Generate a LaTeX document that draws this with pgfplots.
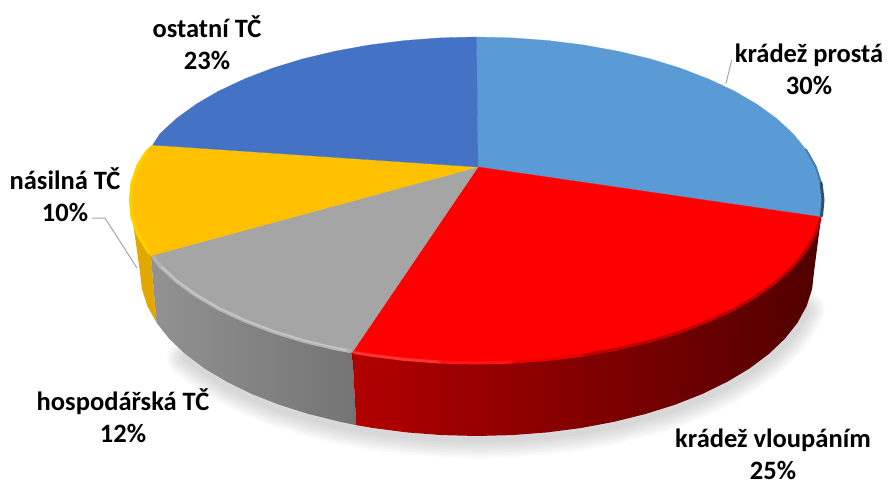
\documentclass[border=0pt]{standalone}
\usepackage{fontspec}
\setmainfont{Carlito}
\usepackage{pgfplots}
\usepackage{pgfplotstable}
\pgfplotsset{compat=1.18}

\definecolor{cprosta}{HTML}{5B9BD5}
\definecolor{cvloup}{HTML}{FF0000}
\definecolor{chosp}{HTML}{A5A5A5}
\definecolor{cnasil}{HTML}{FFC000}
\definecolor{costat}{HTML}{4472C4}
\definecolor{cleader}{HTML}{A6A6A6}
\definecolor{rimgrayA}{HTML}{B2B2B2}
\definecolor{rimgrayB}{HTML}{C6C6C6}
\definecolor{rimyellow}{HTML}{FFD000}

% a stretch of the bevel along the top rim
\newcommand\rim[3]{\addplot[color=#1,line width=#2,line cap=round,line join=round] coordinates {#3};}

% lower edge of the wall, moved down a little, for the soft shadow
\pgfplotstableread{
x y
806.6 310
797.5 327
784.9 343
768.8 358
749.6 372
727.4 386
702.5 398
675.1 409
645.5 418
614.1 426
581.1 432
547.1 436
512.2 439
477 440
441.8 439
406.9 436
372.9 432
339.9 426
308.5 418
278.9 409
251.5 398
226.6 386
204.4 372
185.2 358
}\shadowedge

\begin{document}
\begin{tikzpicture}
\path[use as bounding box] (0,0) rectangle (888pt,481pt);
\begin{axis}[
    at={(0,0)},anchor=south west,
    scale only axis,
    width=888pt,
    height=481pt,
    xmin=0,xmax=888,
    ymin=0,ymax=481,
    y dir=reverse,
    hide axis,
    clip=false,
    ]

% shadow
\addplot[black,opacity=.022,line width=36pt,line join=round,line cap=round] table {\shadowedge};
\addplot[black,opacity=.022,line width=31pt,line join=round,line cap=round] table {\shadowedge};
\addplot[black,opacity=.022,line width=26pt,line join=round,line cap=round] table {\shadowedge};
\addplot[black,opacity=.022,line width=21pt,line join=round,line cap=round] table {\shadowedge};
\addplot[black,opacity=.022,line width=16pt,line join=round,line cap=round] table {\shadowedge};
\addplot[black,opacity=.022,line width=11pt,line join=round,line cap=round] table {\shadowedge};
\addplot[black,opacity=.022,line width=6pt,line join=round,line cap=round] table {\shadowedge};

% side wall, nasilna TC
\addplot[fill={rgb,255:red,224;green,168;blue,0},draw=none] coordinates {
(130.5,205) (131.9,217) (137.6,233.9) (147,250.4) (150.9,255.7) (156.5,322.7)
(147.4,306.1) (141.9,289.1) (140,272)} --cycle;

% side wall, hospodarska TC
\addplot[left color={rgb,255:red,146;green,146;blue,146},right color={rgb,255:red,116;green,116;blue,116},draw=none] coordinates {
(150.9,255.7) (160,266.3) (176.4,281.5) (196.2,295.8) (219,309.1) (244.7,321.1) (272.8,331.9)
(303.2,341.2) (335.6,348.9) (352.3,352.2) (356.2,425.1) (339.9,421.8) (308.5,414) (278.9,404.7)
(251.5,393.9) (226.6,381.7) (204.4,368.4) (185.2,354) (169.1,338.7) (156.5,322.7)} --cycle;

% side wall, kradez vloupanim
\addplot[left color={rgb,255:red,178;green,0;blue,0},middle color={rgb,255:red,106;green,0;blue,0},right color={rgb,255:red,80;green,0;blue,0},draw=none] coordinates {
(352.3,352.2) (369.4,355) (404.5,359.4) (440.3,362.1) (476.5,363) (512.7,362.1) (548.5,359.4)
(583.6,355) (617.4,348.9) (649.8,341.2) (680.2,331.9) (708.3,321.1) (734,309.1) (756.8,295.8)
(776.6,281.5) (793,266.3) (806,250.4) (815.4,233.9) (821.1,217) (814,272) (812.1,289.1)
(806.6,306.1) (797.5,322.7) (784.9,338.7) (768.8,354) (749.6,368.4) (727.4,381.7) (702.5,393.9)
(675.1,404.7) (645.5,414) (614.1,421.8) (581.1,428) (547.1,432.4) (512.2,435.1) (477,436)
(441.8,435.1) (406.9,432.4) (372.9,428) (356.2,425.1)} --cycle;

% top face: kradez prosta 30 %
\addplot[fill=cprosta,draw=cprosta,line width=.3pt] coordinates {
(478,167) (476.5,37) (512.7,37.9) (548.5,40.6) (583.6,45) (617.4,51.1) (649.8,58.8)
(680.2,68.1) (708.3,78.9) (734,90.9) (756.8,104.2) (776.6,118.5) (793,133.7) (806,149.6)
(815.4,166.1) (821.1,183) (823,200) (821.1,217)} --cycle;
% top face: kradez vloupanim 25 %
\addplot[fill=cvloup,draw=cvloup,line width=.3pt] coordinates {
(478,167) (821.1,217) (815.4,233.9) (806,250.4) (793,266.3) (776.6,281.5) (756.8,295.8)
(734,309.1) (708.3,321.1) (680.2,331.9) (649.8,341.2) (617.4,348.9) (583.6,355) (548.5,359.4)
(512.7,362.1) (476.5,363) (440.3,362.1) (404.5,359.4) (369.4,355) (352.3,352.2)} --cycle;
% top face: hospodarska TC 12 %
\addplot[fill=chosp,draw=chosp,line width=.3pt] coordinates {
(478,167) (352.3,352.2) (335.6,348.9) (303.2,341.2) (272.8,331.9) (244.7,321.1) (219,309.1)
(196.2,295.8) (176.4,281.5) (160,266.3) (150.9,255.7)} --cycle;
% top face: nasilna TC 10 %
\addplot[fill=cnasil,draw=cnasil,line width=.3pt] coordinates {
(478,167) (150.9,255.7) (147,250.4) (137.6,233.9) (131.9,217) (130,200) (131.9,183)
(137.6,166.1) (147,149.6) (152.7,145)} --cycle;
% top face: ostatni TC 23 %
\addplot[fill=costat,draw=costat,line width=.3pt] coordinates {
(478,167) (152.7,145) (160,133.7) (176.4,118.5) (196.2,104.2) (219,90.9) (244.7,78.9)
(272.8,68.1) (303.2,58.8) (335.6,51.1) (369.4,45) (404.5,40.6) (440.3,37.9) (476.5,37)} --cycle;

% bevel on the rim
\rim{rimgrayA}{4pt}{(350,351) (335.6,348.4) (303.2,340.7) (272.8,331.4) (244.7,320.6) (219,308.6) (196.2,295.3) (176.4,281) (160,265.8) (154,258)}
\rim{rimgrayB}{1.6pt}{(346,350) (335.6,348) (303.2,340.2) (272.8,330.9) (244.7,320.1) (219,308.1) (196.2,294.8) (176.4,280.5) (162,267)}
\rim{rimyellow}{3pt}{(149,253) (137.6,233.9) (131.9,217) (130.5,200) (131.9,183) (137.6,166.1) (147,151)}
\rim{red!80!white}{3pt}{(354,352.5) (369.4,355) (404.5,359.4) (440.3,362.1)}
\rim{red!92!white}{3pt}{(440.3,362.1) (476.5,363) (512.7,362.1)}
\rim{red!92!black}{3pt}{(512.7,362.1) (548.5,359.4) (583.6,355)}
\rim{red!76!black}{3pt}{(583.6,355) (617.4,348.9) (649.8,341.2) (680.2,331.9) (708.3,321.1) (734,309.1) (756.8,295.8) (776.6,281.5) (793,266.3) (806,250.4) (815.4,233.9) (820,219)}
\rim{cprosta!80!black}{2pt}{(806,149.6) (815.4,166.1) (821.1,183)}
\rim{cprosta!52!black}{3pt}{(821.1,183) (823,200) (821.5,216)}

% leader lines
\addplot[cleader,line width=1pt] coordinates {(731.7,60) (726,83.3)};
\addplot[cleader,line width=1pt] coordinates {(92,218) (105,218) (137,268)};

\end{axis}
\begin{scope}[every node/.style={align=center,font=\fontsize{26.5}{32}\selectfont\bfseries,inner sep=0pt,anchor=center}]
\node at (207pt,481pt-43pt) {ostatní TČ\\23\%};
\node at (809pt,481pt-69pt) {krádež prostá\\30\%};
\node at (65pt,481pt-195pt) {násilná TČ\\10\%};
\node at (123pt,481pt-416pt) {hospodářská TČ\\12\%};
\node at (773pt,481pt-454pt) {krádež vloupáním\\25\%};
\end{scope}
\end{tikzpicture}
\end{document}
